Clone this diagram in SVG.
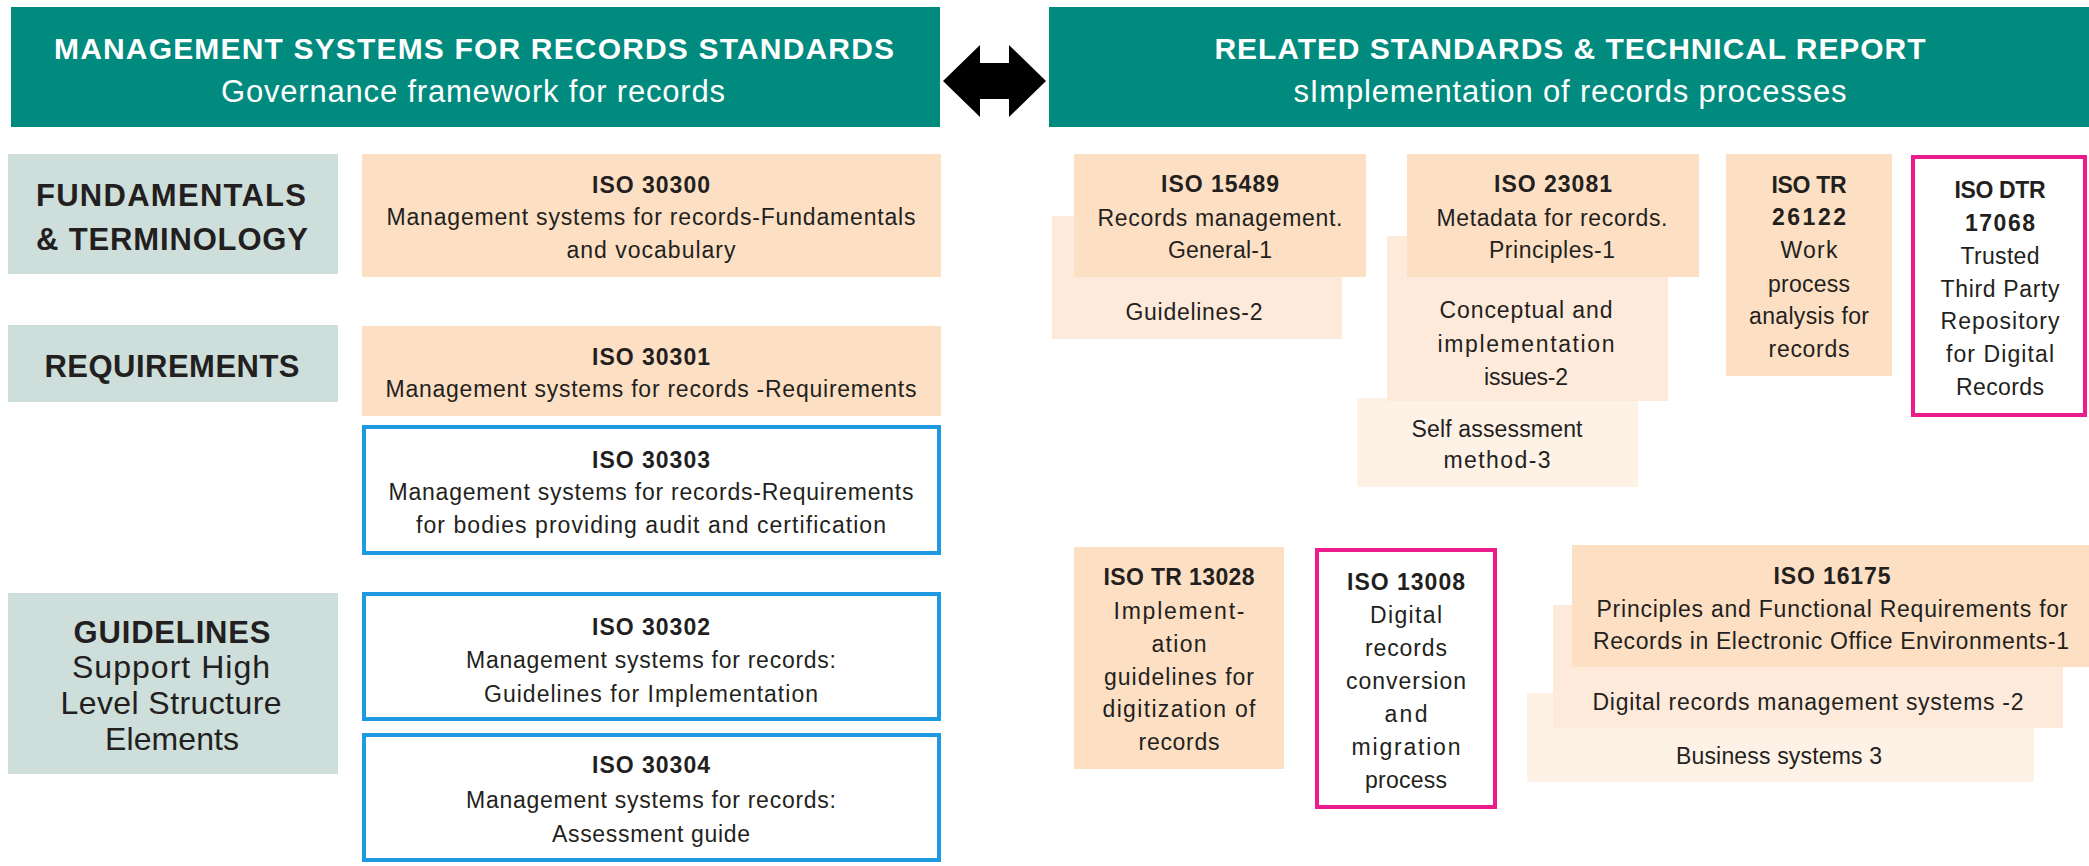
<svg xmlns="http://www.w3.org/2000/svg" width="2089" height="866" viewBox="0 0 2089 866">
<style>
.hdr{fill:#008b7e}
.cat{fill:#cddedb}
.p1{fill:#fddfc4}
.p2{fill:#feeadb}
.p3{fill:#fef1e6}
.blue{fill:#fff;stroke:#1e9be0;stroke-width:4}
.pink{fill:#fff;stroke:#ec1c8c;stroke-width:4}
text{font-family:"Liberation Sans",Arial,sans-serif;text-anchor:middle;fill:#231f20}
.t{font-size:23px}
.b{font-size:23px;font-weight:bold}
.ht{font-size:30px;font-weight:bold;fill:#fff}
.hs{font-size:31px;fill:#fff}
.ct{font-size:31px;font-weight:bold}
.cr{font-size:32px}
</style>
<rect width="2089" height="866" fill="#fff"/>

<g id="header-left">
<rect class="hdr" x="11" y="7" width="929" height="120"/>
<text class="ht" x="474" y="59" textLength="840">MANAGEMENT SYSTEMS FOR RECORDS STANDARDS</text>
<text class="hs" x="473" y="102" textLength="504">Governance framework for records</text>
</g>
<g id="header-right">
<rect class="hdr" x="1049" y="7" width="1040" height="120"/>
<text class="ht" x="1570" y="59" textLength="711">RELATED STANDARDS &amp; TECHNICAL REPORT</text>
<text class="hs" x="1570" y="102" textLength="553">sImplementation of records processes</text>
</g>

<g id="connectors">
<polygon points="943,81 980,45 980,63 1009,63 1009,45 1046,81 1009,117 1009,99 980,99 980,117" fill="#000"/>
</g>

<g id="cat-fundamentals">
<rect class="cat" x="8" y="154" width="330" height="120"/>
<text class="ct" x="171" y="206" textLength="270">FUNDAMENTALS</text>
<text class="ct" x="172" y="250" textLength="272">&amp; TERMINOLOGY</text>
</g>
<g id="cat-requirements">
<rect class="cat" x="8" y="325" width="330" height="77"/>
<text class="ct" x="172" y="377" textLength="255">REQUIREMENTS</text>
</g>
<g id="cat-guidelines">
<rect class="cat" x="8" y="593" width="330" height="181"/>
<text class="ct" x="172" y="643" textLength="197">GUIDELINES</text>
<text class="cr" x="171" y="678" textLength="198">Support High</text>
<text class="cr" x="171" y="714" textLength="221">Level Structure</text>
<text class="cr" x="172" y="750" textLength="134">Elements</text>
</g>

<g id="iso30300">
<rect class="p1" x="362" y="154" width="579" height="123"/>
<text class="b" x="651" y="193" textLength="118">ISO 30300</text>
<text class="t" x="651" y="225" textLength="529">Management systems for records-Fundamentals</text>
<text class="t" x="651" y="258" textLength="169">and vocabulary</text>
</g>
<g id="iso30301">
<rect class="p1" x="362" y="326" width="579" height="90"/>
<text class="b" x="651" y="365" textLength="118">ISO 30301</text>
<text class="t" x="651" y="397" textLength="531">Management systems for records -Requirements</text>
</g>
<g id="iso30303">
<rect class="blue" x="364" y="427" width="575" height="126"/>
<text class="b" x="651" y="468" textLength="118">ISO 30303</text>
<text class="t" x="651" y="500" textLength="525">Management systems for records-Requirements</text>
<text class="t" x="651" y="533" textLength="470">for bodies providing audit and certification</text>
</g>
<g id="iso30302">
<rect class="blue" x="364" y="594" width="575" height="125"/>
<text class="b" x="651" y="635" textLength="118">ISO 30302</text>
<text class="t" x="651" y="668" textLength="370">Management systems for records:</text>
<text class="t" x="651" y="702" textLength="334">Guidelines for Implementation</text>
</g>
<g id="iso30304">
<rect class="blue" x="364" y="735" width="575" height="125"/>
<text class="b" x="651" y="773" textLength="118">ISO 30304</text>
<text class="t" x="651" y="808" textLength="370">Management systems for records:</text>
<text class="t" x="651" y="842" textLength="198">Assessment guide</text>
</g>

<g id="iso15489">
<rect class="p2" x="1052" y="216" width="290" height="123"/>
<text class="t" x="1194" y="320" textLength="137">Guidelines-2</text>
<rect class="p1" x="1074" y="154" width="292" height="123"/>
<text class="b" x="1220" y="192" textLength="118">ISO 15489</text>
<text class="t" x="1220" y="226" textLength="245">Records management.</text>
<text class="t" x="1220" y="258" textLength="104">General-1</text>
</g>
<g id="iso23081">
<rect class="p3" x="1357" y="398" width="281" height="89"/>
<text class="t" x="1497" y="437" textLength="171">Self assessment</text>
<text class="t" x="1497" y="468" textLength="107">method-3</text>
<rect class="p2" x="1387" y="236" width="281" height="165"/>
<text class="t" x="1526" y="318" textLength="173">Conceptual and</text>
<text class="t" x="1526" y="352" textLength="177">implementation</text>
<text class="t" x="1526" y="385" textLength="84">issues-2</text>
<rect class="p1" x="1407" y="154" width="292" height="123"/>
<text class="b" x="1553" y="192" textLength="118">ISO 23081</text>
<text class="t" x="1552" y="226" textLength="231">Metadata for records.</text>
<text class="t" x="1552" y="258" textLength="126">Principles-1</text>
</g>
<g id="iso26122">
<rect class="p1" x="1726" y="154" width="166" height="222"/>
<text class="b" x="1809" y="193" textLength="75">ISO TR</text>
<text class="b" x="1809" y="225" textLength="74">26122</text>
<text class="t" x="1809" y="258" textLength="57">Work</text>
<text class="t" x="1809" y="292" textLength="82">process</text>
<text class="t" x="1809" y="324" textLength="120">analysis for</text>
<text class="t" x="1809" y="357" textLength="81">records</text>
</g>
<g id="iso17068">
<rect class="pink" x="1913" y="157" width="172" height="258"/>
<text class="b" x="2000" y="198" textLength="91">ISO DTR</text>
<text class="b" x="2000" y="231" textLength="70">17068</text>
<text class="t" x="2000" y="264" textLength="79">Trusted</text>
<text class="t" x="2000" y="297" textLength="119">Third Party</text>
<text class="t" x="2000" y="329" textLength="119">Repository</text>
<text class="t" x="2000" y="362" textLength="108">for Digital</text>
<text class="t" x="2000" y="395" textLength="88">Records</text>
</g>

<g id="iso13028">
<rect class="p1" x="1074" y="547" width="210" height="222"/>
<text class="b" x="1179" y="585" textLength="151">ISO TR 13028</text>
<text class="t" x="1179" y="619" textLength="131">Implement-</text>
<text class="t" x="1179" y="652" textLength="55">ation</text>
<text class="t" x="1179" y="685" textLength="150">guidelines for</text>
<text class="t" x="1179" y="717" textLength="153">digitization of</text>
<text class="t" x="1179" y="750" textLength="81">records</text>
</g>
<g id="iso13008">
<rect class="pink" x="1317" y="550" width="178" height="257"/>
<text class="b" x="1406" y="590" textLength="118">ISO 13008</text>
<text class="t" x="1406" y="623" textLength="72">Digital</text>
<text class="t" x="1406" y="656" textLength="82">records</text>
<text class="t" x="1406" y="689" textLength="120">conversion</text>
<text class="t" x="1406" y="722" textLength="43">and</text>
<text class="t" x="1406" y="755" textLength="109">migration</text>
<text class="t" x="1406" y="788" textLength="82">process</text>
</g>
<g id="iso16175">
<rect class="p3" x="1527" y="693" width="507" height="89"/>
<text class="t" x="1779" y="764" textLength="206">Business systems 3</text>
<rect class="p2" x="1553" y="605" width="510" height="123"/>
<text class="t" x="1808" y="710" textLength="431">Digital records management systems -2</text>
<rect class="p1" x="1572" y="545" width="517" height="122"/>
<text class="b" x="1832" y="584" textLength="117">ISO 16175</text>
<text class="t" x="1832" y="617" textLength="471">Principles and Functional Requirements for</text>
<text class="t" x="1831" y="649" textLength="476">Records in Electronic Office Environments-1</text>
</g>
</svg>
